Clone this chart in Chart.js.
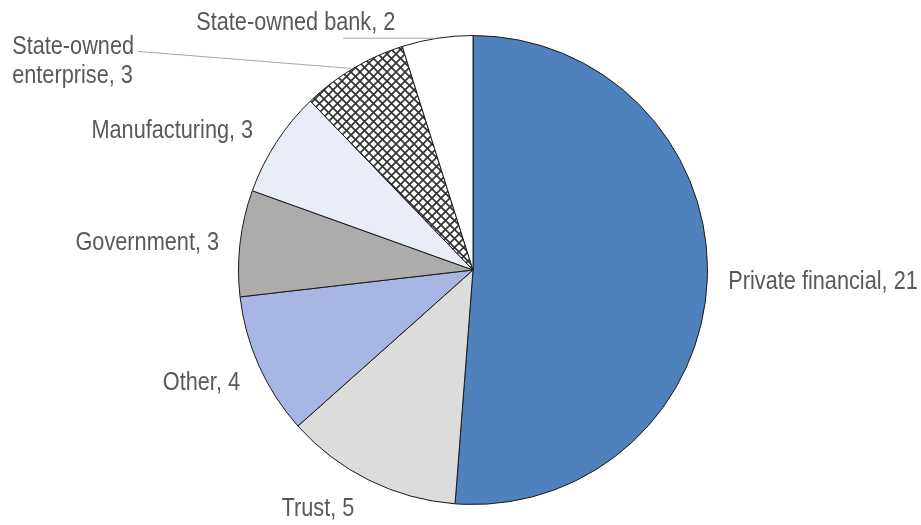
<!DOCTYPE html>
<html lang="en">
<head>
  <meta charset="UTF-8" />
  <title>Share by owner type</title>
  <script src="https://cdn.jsdelivr.net/npm/chart.js"></script>
  <style>
    html, body { margin: 0; padding: 0; background: #fff; }
    #wrap { width: 921px; height: 525px; }
  </style>
</head>
<body>
  <div id="wrap"><canvas id="pieChart"></canvas></div>

  <script>
    const categories = ['Private financial', 'Trust', 'Other', 'Government', 'Manufacturing', 'State-owned enterprise', 'State-owned bank'];
    const counts = [21, 5, 4, 3, 3, 3, 2];
    const labelLines = [
      ['Private financial, 21'],
      ['Trust, 5'],
      ['Other, 4'],
      ['Government, 3'],
      ['Manufacturing, 3'],
      ['State-owned', 'enterprise, 3'],
      ['State-owned bank, 2']
    ];

    // label placement relative to the slice's outer midpoint
    const labelPos = [
      { dx: 21, dy: 3, align: 'left' },
      { dx: -51, dy: 29, align: 'center' },
      { dx: -19, dy: 17, align: 'right' },
      { dx: -21, dy: 0, align: 'right' },
      { dx: -23, dy: -12, align: 'right' },
      { dx: -341, dy: -22, align: 'left', lead: { x: -215, y: -17 } },
      { dx: -241, dy: -15, align: 'left', lead: { x: -94, y: 0 } }
    ];

    function crossHatch() {
      const c = document.createElement('canvas');
      c.width = 9; c.height = 9;
      const g = c.getContext('2d');
      g.fillStyle = '#fff';
      g.fillRect(0, 0, 9, 9);
      g.strokeStyle = '#333';
      g.lineWidth = 1.7;
      g.beginPath();
      g.moveTo(0, 0); g.lineTo(9, 9);
      g.moveTo(9, 0); g.lineTo(0, 9);
      g.stroke();
      return g.createPattern(c, 'repeat');
    }

    const colors = ['#4f81bd', '#dcdcdc', '#a7b6e2', '#acacac', '#e9edf7', crossHatch(), '#ffffff'];

    const outsideLabels = {
      id: 'outsideLabels',
      afterDatasetsDraw(chart) {
        const ctx = chart.ctx;
        const meta = chart.getDatasetMeta(0);
        ctx.save();
        meta.data.forEach((arc, i) => {
          const mid = (arc.startAngle + arc.endAngle) / 2;
          const px = arc.x + arc.outerRadius * Math.cos(mid);
          const py = arc.y + arc.outerRadius * Math.sin(mid);
          const p = labelPos[i];
          if (p.lead) {
            ctx.strokeStyle = '#a6a6a6';
            ctx.lineWidth = 1;
            ctx.beginPath();
            ctx.moveTo(px + p.lead.x, py + p.lead.y);
            ctx.lineTo(px - 2, py);
            ctx.stroke();
          }
          // narrow face: squeeze the sans horizontally
          ctx.save();
          ctx.translate(px + p.dx, py + p.dy);
          ctx.scale(0.835, 1);
          ctx.font = '26px "Liberation Sans", Arial, sans-serif';
          ctx.fillStyle = '#595959';
          ctx.textBaseline = 'middle';
          ctx.textAlign = p.align;
          labelLines[i].forEach((t, k) => ctx.fillText(t, 0, k * 29));
          ctx.restore();
        });
        ctx.restore();
      }
    };

    new Chart(document.getElementById('pieChart'), {
      type: 'pie',
      data: {
        labels: categories,
        datasets: [{
          data: counts,
          backgroundColor: colors,
          borderColor: '#1a1a1a',
          borderWidth: 1
        }]
      },
      options: {
        responsive: true,
        maintainAspectRatio: false,
        animation: false,
        layout: { padding: { top: 35, bottom: 20, left: 200, right: 175 } },
        plugins: {
          legend: { display: false },
          tooltip: { enabled: false }
        }
      },
      plugins: [outsideLabels]
    });
  </script>
</body>
</html>
